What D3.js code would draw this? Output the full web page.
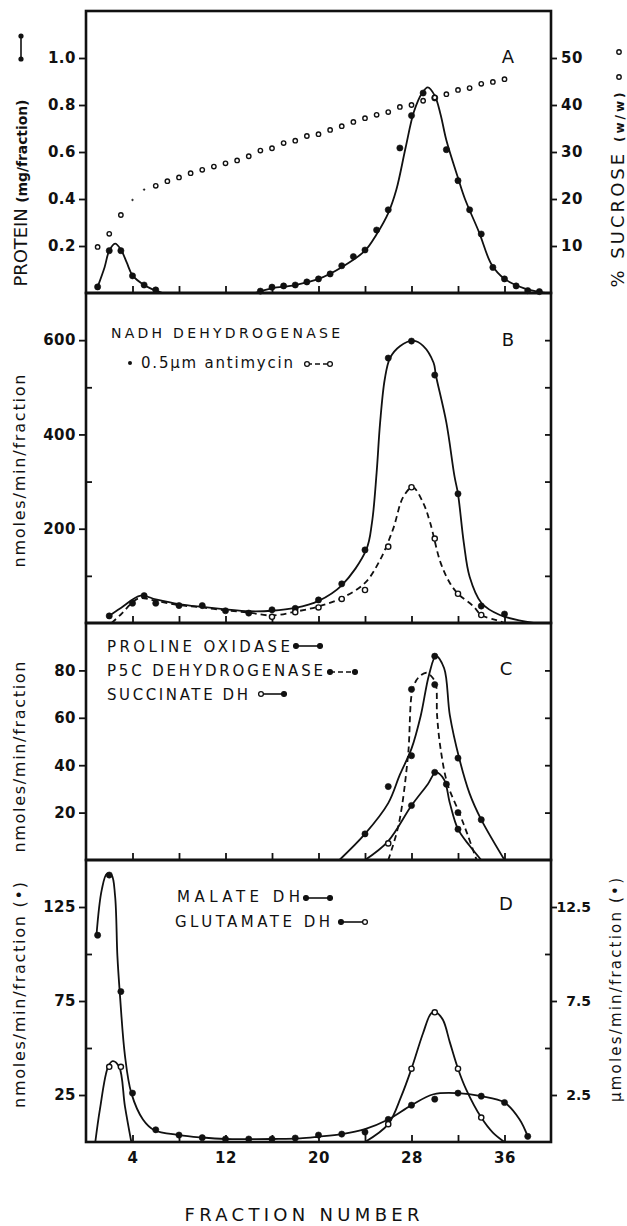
<!DOCTYPE html>
<html>
<head>
<meta charset="utf-8">
<script src="https://cdn.jsdelivr.net/npm/d3@7"></script>
<style>
  body { margin: 0; background: #fff; }
  svg text { font-family: "DejaVu Sans", sans-serif; fill: #111; }
</style>
</head>
<body>
<svg id="chart" width="627" height="1226"></svg>
<script>
// ---------------------------------------------------------------------------
// values  [fraction, value]
// ---------------------------------------------------------------------------
var fractionTicks = [4, 8, 12, 16, 20, 24, 28, 32, 36];
var fractionLabels = [4, 12, 20, 28, 36];

// A - protein (mg/fraction) and sucrose (% w/w)
var proteinTicks = [0.2, 0.4, 0.6, 0.8, 1.0];
var sucroseTicks = [10, 20, 30, 40, 50];
var proteinPoints = [[1,0.026],[2,0.18],[3,0.18],[4,0.073],[5,0.034],[6,0.013],[15,0.008],[16,0.025],[17,0.03],[18,0.034],[19,0.047],[20,0.06],[21,0.081],[22,0.116],[23,0.155],[24,0.183],[25,0.268],[26,0.354],[27,0.617],[28,0.755],[29,0.851],[30,0.83],[31,0.61],[32,0.478],[33,0.354],[34,0.251],[35,0.109],[36,0.06],[37,0.03],[38,0.01],[39,0.006]];
var proteinCurveLow = [[1,0.026],[1.6,0.11],[2,0.18],[2.5,0.21],[3,0.185],[3.5,0.13],[4,0.075],[5,0.034],[6,0.01],[6.6,0]];
var proteinCurveMain = [[14.5,0],[16,0.02],[18,0.034],[20,0.06],[22,0.11],[24,0.18],[25,0.25],[26,0.34],[26.7,0.44],[27.5,0.62],[28.2,0.77],[28.9,0.85],[29.4,0.875],[30,0.84],[30.5,0.76],[31,0.65],[32,0.49],[32.6,0.40],[33.8,0.26],[34.9,0.12],[36,0.06],[37.7,0.02],[39.5,0]];
var sucrosePoints = [[1,9.8],[2,12.6],[3,16.6],[4,19.8],[5,22.0],[6,22.8],[7,23.8],[8,24.6],[9,25.5],[10,26.2],[11,26.9],[12,27.6],[13,28.2],[14,29.1],[15,30.3],[16,30.8],[17,31.9],[18,32.4],[19,33.4],[20,33.8],[21,34.7],[22,35.5],[23,36.4],[24,37.2],[25,37.9],[26,38.5],[27,39.6],[28,40.0],[29,40.9],[30,41.6],[31,42.3],[32,43.2],[33,43.6],[34,44.5],[35,44.9],[36,45.5]];
var sucroseFaint = [4, 5];

// B - NADH dehydrogenase (nmoles/min/fraction)
var nadhTicks = [200, 400, 600];
var nadhMinor = [100, 300, 500];
var nadhPoints = [[2,15],[4,42],[5,58],[6,42],[8,37],[10,37],[12,26],[14,21],[16,28],[18,31],[20,49],[22,83],[24,155],[26,562],[28,598],[30,526],[32,274],[34,36],[36,19]];
var nadhCurve = [[1.8,12],[3,32],[4.7,58],[6,50],[8,40],[10,34],[12,29],[14,25],[16,26],[18,32],[20,47],[22,80],[24.1,155],[24.6,213],[25,319],[25.3,425],[25.7,517],[26.15,562],[27,587],[28.15,599],[29,588],[29.9,552],[30.1,525],[31,425],[31.7,311],[32,274],[32.5,170],[33,98],[34,43],[35.6,17],[38.5,0]];
var antimycinPoints = [[16,13],[18,23],[20,33],[22,51],[24,70],[26,162],[28,288],[30,179],[32,62],[34,17]];
var antimycinCurve = [[2.2,0],[3,18],[4.5,52],[6,47],[8,38],[10,33],[12,27],[14,22],[16,16],[18,24],[20,35],[22,53],[24,85],[25.3,134],[26.4,198],[27.3,268],[28.1,288],[29,255],[29.6,213],[30.5,128],[31.3,85],[32,62],[33.3,36],[34,17],[35.3,6],[36,0]];

// C - proline oxidase, P5C dehydrogenase, succinate DH
var prolineTicks = [20, 40, 60, 80];
var prolinePoints = [[24,11],[26,31],[28,44],[30,86],[32,43],[34,17]];
var prolineCurve = [[21.8,0],[24,11],[26,24],[27,36],[28,47],[28.8,61],[29.5,78],[30.1,86],[30.8,81],[31.3,61],[32.1,43],[33,28],[34,17],[36,0]];
var p5cPoints = [[28,72],[30,74],[31,32],[32,20]];
var p5cCurve = [[26,0],[26.9,15],[27.7,44],[28.1,72],[28.6,77],[29.3,79],[29.8,77],[30.1,74],[30.2,61],[30.5,47],[31.1,32],[32.1,20],[32.8,11],[33.6,0]];
var succinatePoints = [[26,7],[28,23],[30,37],[32,13]];
var succinateOpen = [26];
var succinateCurve = [[24,0],[26,8],[28,23],[29.4,32],[30.1,37],[30.8,34],[31.3,24],[32,13],[33,6],[34,0]];

// D - malate DH (nmoles, left) and glutamate DH (umoles, right)
var malateTicks = [25, 75, 125];
var malateMinor = [50, 100];
var glutamateTicks = [2.5, 7.5, 12.5];
var glutamateMinor = [5, 10];
var malatePoints = [[1,110],[2,142],[3,80],[4,26],[6,6.5],[8,3.7],[10,2.3],[12,1.6],[14,1.6],[16,1.6],[18,2.1],[20,3.7],[22,4.2],[24,5.3],[26,12],[28,19.6],[30,22.8],[32,26],[34,24.4],[36,21],[38,3]];
var malateCurve = [[0.9,110],[1.35,134],[1.8,142.7],[2.2,142],[2.5,131],[2.7,99],[2.9,80],[3.35,46],[3.9,26],[4.9,12],[5.85,6.4],[8,3.7],[10,2.4],[12,1.6],[14,1.5],[16,1.6],[18.4,1.9],[20,2.8],[22,4.2],[24,6.9],[26,12],[28,19.6],[29.9,25.4],[32,26],[34,24.4],[36,21],[37.3,12],[38,3]];
var glutamatePoints = [[2,4.0],[3,4.0],[26,0.95],[28,3.9],[30,6.9],[32,3.9],[34,1.3]];
var glutamateCurveLow = [[0.8,0],[1.2,1.75],[1.9,4.0],[2.3,4.3],[2.85,4.0],[3.35,1.9],[3.9,0]];
var glutamateCurveMain = [[24,0],[26,0.95],[27.1,2.4],[28,3.9],[29,5.8],[29.7,6.85],[30.1,6.9],[30.7,6.5],[31.3,5.3],[32,3.9],[32.7,2.8],[34,1.3],[35,0.5],[36,0]];

// ---------------------------------------------------------------------------
var svg = d3.select("#chart");
var ink = "#111";
var left = 86, right = 551;

var x = d3.scaleLinear().domain([0, 40]).range([left, right]);

var yA = d3.scaleLinear().domain([0, 1.2]).range([293, 11]);
var yAr = d3.scaleLinear().domain([0, 60]).range([293, 11]);
var yB = d3.scaleLinear().domain([0, 700]).range([623, 293]);
var yC = d3.scaleLinear().domain([0, 100]).range([860, 623]);
var yD = d3.scaleLinear().domain([0, 150]).range([1142, 860]);
var yDr = d3.scaleLinear().domain([0, 15]).range([1142, 860]);

var line = function(yS) {
   return d3.line()
      .x(function(d) { return x(d[0]); })
      .y(function(d) { return yS(d[1]); })
      .curve(d3.curveCatmullRom.alpha(0.5));
};

function curve(data, yS, dash) {
   svg.append("path").datum(data)
      .attr("d", line(yS))
      .attr("fill", "none")
      .attr("stroke", ink)
      .attr("stroke-width", 1.8)
      .attr("stroke-dasharray", dash || null);
}

function dots(data, yS, open, r) {
   svg.append("g").selectAll("circle")
      .data(data).enter().append("circle")
      .attr("cx", function(d) { return x(d[0]); })
      .attr("cy", function(d) { return yS(d[1]); })
      .attr("r", r || (open ? 2.6 : 3.1))
      .attr("fill", open ? "#fff" : ink)
      .attr("stroke", ink)
      .attr("stroke-width", open ? 1.4 : 0.6);
}

function cleanAxis(g) {
   g.select(".domain").remove();
   g.selectAll("line").attr("stroke", ink).attr("stroke-width", 1.8);
   g.selectAll("text")
      .attr("fill", ink)
      .style("font-size", "15px")
      .style("font-weight", "bold")
      .style("letter-spacing", "0.5px");
}

// frame + ticks for each panel
function frame(yS, top, bottom) {
   // bottom ticks pointing up into the panel
   svg.append("g").attr("transform", "translate(0," + bottom + ")")
      .call(d3.axisTop(x).tickValues(fractionTicks).tickSize(7).tickFormat(""))
      .call(cleanAxis);
   svg.append("rect")
      .attr("x", left).attr("y", top)
      .attr("width", right - left).attr("height", bottom - top)
      .attr("fill", "none").attr("stroke", ink).attr("stroke-width", 2.6);
}

function leftAxis(yS, ticks, fmt, minor) {
   svg.append("g").attr("transform", "translate(" + left + ",0)")
      .call(d3.axisLeft(yS).tickValues(ticks).tickSize(7).tickPadding(3).tickFormat(fmt))
      .call(cleanAxis);
   if (minor) {
      svg.append("g").attr("transform", "translate(" + left + ",0)")
         .call(d3.axisRight(yS).tickValues(minor).tickSize(6).tickFormat(""))
         .call(cleanAxis);
   }
}

function rightInner(yS, ticks) {
   svg.append("g").attr("transform", "translate(" + right + ",0)")
      .call(d3.axisLeft(yS).tickValues(ticks).tickSize(6).tickFormat(""))
      .call(cleanAxis);
}

function label(txt, xp, yp, size, opts) {
   opts = opts || {};
   var t = svg.append("text")
      .attr("x", xp).attr("y", yp)
      .style("font-size", size + "px")
      .attr("text-anchor", opts.anchor || "start")
      .text(txt);
   if (opts.weight) t.style("font-weight", opts.weight);
   if (opts.len) t.attr("textLength", opts.len).attr("lengthAdjust", "spacing");
   return t;
}

function vlabel(parts, xb, yc, len) {
   var t = svg.append("text")
      .attr("transform", "translate(" + xb + "," + yc + ") rotate(-90)")
      .attr("text-anchor", "middle")
      .attr("textLength", len).attr("lengthAdjust", "spacing");
   parts.forEach(function(p) {
      t.append("tspan").style("font-size", p[1] + "px")
         .style("font-weight", p[2] || "normal").text(p[0]);
   });
}

function glyph(x1, x2, yp, open1, open2, dash) {
   svg.append("line").attr("x1", x1).attr("x2", x2).attr("y1", yp).attr("y2", yp)
      .attr("stroke", ink).attr("stroke-width", 1.6).attr("stroke-dasharray", dash || null);
   [[x1, open1], [x2, open2]].forEach(function(p) {
      svg.append("circle").attr("cx", p[0]).attr("cy", yp).attr("r", 2.4)
         .attr("fill", p[1] ? "#fff" : ink).attr("stroke", ink).attr("stroke-width", 1.3);
   });
}

// ---------------- panel A ----------------
frame(yA, 11, 293);
leftAxis(yA, proteinTicks, d3.format(".1f"));
svg.append("g").attr("transform", "translate(" + right + ",0)")
   .call(d3.axisRight(yAr).tickValues(sucroseTicks).tickSize(6).tickPadding(4))
   .call(cleanAxis);

curve(proteinCurveLow, yA);
curve(proteinCurveMain, yA);
dots(proteinPoints, yA, false);
dots(sucrosePoints.filter(function(d) { return sucroseFaint.indexOf(d[0]) < 0; }), yAr, true, 2.2);
dots(sucrosePoints.filter(function(d) { return sucroseFaint.indexOf(d[0]) >= 0; }), yAr, false, 0.8);

label("A", 508, 63, 18, {anchor: "middle"});
vlabel([["PROTEIN ", 18], ["(mg/fraction)", 14, "bold"]], 27, 193, 187);
svg.append("line").attr("x1", 21).attr("x2", 21).attr("y1", 36).attr("y2", 59)
   .attr("stroke", ink).attr("stroke-width", 1.6);
[36, 59].forEach(function(yp) {
   svg.append("circle").attr("cx", 21).attr("cy", yp).attr("r", 2.6).attr("fill", ink);
});
vlabel([["% SUCROSE ", 18], ["(w/w)", 12, "bold"]], 624, 190, 195);
[52, 77].forEach(function(yp) {
   svg.append("circle").attr("cx", 619).attr("cy", yp).attr("r", 2.2)
      .attr("fill", "#fff").attr("stroke", ink).attr("stroke-width", 1.4);
});

// ---------------- panel B ----------------
frame(yB, 293, 623);
leftAxis(yB, nadhTicks, d3.format("d"), nadhMinor);
rightInner(yB, nadhMinor.concat(nadhTicks));

curve(nadhCurve, yB);
curve(antimycinCurve, yB, "6,4");
dots(nadhPoints, yB, false);
dots(antimycinPoints, yB, true);

label("B", 508, 346, 18, {anchor: "middle"});
label("NADH DEHYDROGENASE", 111, 338, 14, {len: 229});
svg.append("circle").attr("cx", 130).attr("cy", 363).attr("r", 2).attr("fill", ink);
label("0.5\u00b5m antimycin", 141, 368, 15, {len: 152});
glyph(307, 330, 364, true, true, "5,3");
vlabel([["nmoles/min/fraction", 16]], 25, 471, 193);

// ---------------- panel C ----------------
frame(yC, 623, 860);
leftAxis(yC, prolineTicks, d3.format("d"));
rightInner(yC, prolineTicks);

curve(prolineCurve, yC);
curve(p5cCurve, yC, "6,4");
curve(succinateCurve, yC);
dots(prolinePoints, yC, false);
dots(p5cPoints, yC, false);
dots(succinatePoints.filter(function(d) { return succinateOpen.indexOf(d[0]) < 0; }), yC, false);
dots(succinatePoints.filter(function(d) { return succinateOpen.indexOf(d[0]) >= 0; }), yC, true);

label("C", 506, 675, 18, {anchor: "middle"});
label("PROLINE OXIDASE", 107, 652, 15, {len: 183});
glyph(296, 320, 646, false, false);
label("P5C DEHYDROGENASE", 107, 676, 15, {len: 216});
glyph(330, 355, 672, false, false, "5,3");
label("SUCCINATE DH", 107, 700, 15, {len: 141});
glyph(261, 284, 694, true, false);
vlabel([["nmoles/min/fraction", 16]], 25, 757, 191);

// ---------------- panel D ----------------
frame(yD, 860, 1142);
leftAxis(yD, malateTicks, d3.format("d"), malateMinor);
svg.append("g").attr("transform", "translate(" + right + ",0)")
   .call(d3.axisRight(yDr).tickValues(glutamateTicks).tickSize(6).tickPadding(4).tickFormat(d3.format(".1f")))
   .call(cleanAxis)
   .selectAll("text").attr("text-anchor", "end").attr("x", 40)
   .style("font-size", "14px").style("letter-spacing", "0px");
rightInner(yDr, glutamateMinor);

curve(malateCurve, yD);
curve(glutamateCurveLow, yDr);
curve(glutamateCurveMain, yDr);
dots(malatePoints, yD, false);
dots(glutamatePoints, yDr, true);

label("D", 506, 910, 18, {anchor: "middle"});
label("MALATE DH", 177, 902, 15, {len: 123});
glyph(306, 330, 898, false, false);
label("GLUTAMATE DH", 175, 927, 15, {len: 155});
glyph(341, 365, 922, false, true);
vlabel([["nmoles/min/fraction (\u2022)", 16]], 25, 995, 226);
vlabel([["\u00b5moles/min/fraction (\u2022)", 15]], 621, 990, 224);

// ---------------- x axis labels ----------------
svg.append("g").attr("transform", "translate(0,1142)")
   .call(d3.axisBottom(x).tickValues(fractionLabels).tickSize(0).tickPadding(10).tickFormat(d3.format("d")))
   .call(cleanAxis);
label("FRACTION NUMBER", 302, 1221, 18, {anchor: "middle", len: 235});
</script>
</body>
</html>
